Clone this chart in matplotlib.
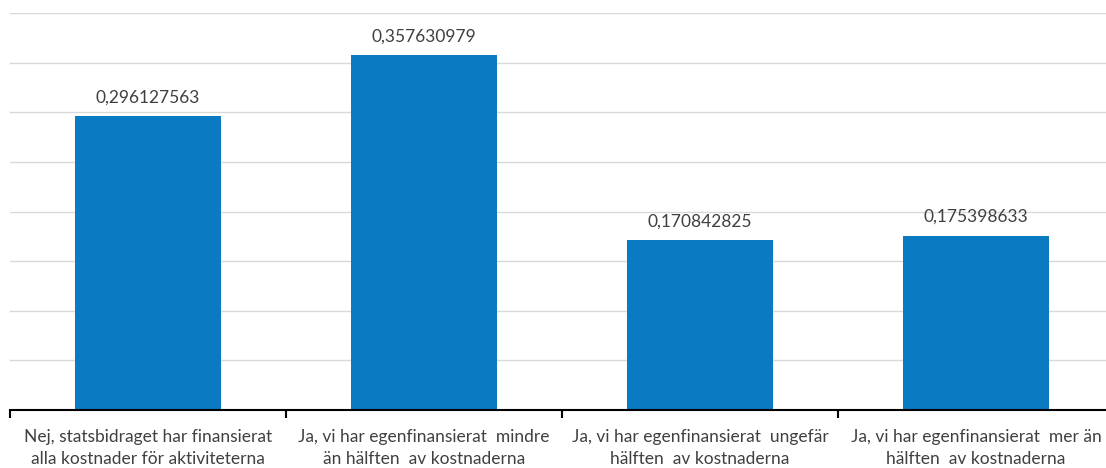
import matplotlib.pyplot as plt
import numpy as np

categories = [
    "Nej, statsbidraget har finansierat\nalla kostnader för aktiviteterna",
    "Ja, vi har egenfinansierat  mindre\nän hälften  av kostnaderna",
    "Ja, vi har egenfinansierat  ungefär\nhälften  av kostnaderna",
    "Ja, vi har egenfinansierat  mer än\nhälften  av kostnaderna",
]
values = [0.296127563, 0.357630979, 0.170842825, 0.175398633]
value_labels = ["0,296127563", "0,357630979", "0,170842825", "0,175398633"]

plt.rcParams['font.family'] = ['Lato', 'DejaVu Sans']

fig = plt.figure(figsize=(11.06, 4.68), dpi=100)
# the plot area runs past the right edge of the picture, as in the original
ax = fig.add_axes([10 / 1106, 1 - 410 / 468, 1104 / 1106, 397 / 468])

x = np.arange(len(values))
ax.bar(x, values, width=0.53, color="#0A7BC2", zorder=3)

for xi, v, lab in zip(x, values, value_labels):
    ax.text(xi, v + 0.011, lab, ha="center", va="bottom",
            fontsize=12.5, color="#404040")

ax.set_xlim(-0.5, len(values) - 0.5)
ax.set_ylim(0, 0.40)
ax.set_yticks(np.arange(0, 0.401, 0.05))
ax.yaxis.grid(True, color="#d9d9d9", linewidth=1, zorder=0)
ax.tick_params(axis="y", left=False, labelleft=False)

ax.set_xticks(x)
ax.set_xticklabels(categories, fontsize=12.5, color="#404040", linespacing=1.4)
ax.tick_params(axis="x", length=0, pad=14)
ax.set_xticks(np.arange(-0.5, len(values)), minor=True)
ax.tick_params(axis="x", which="minor", length=6, width=1.5, color="black",
               direction="out")

for s in ["top", "right", "left"]:
    ax.spines[s].set_visible(False)
ax.spines["bottom"].set_linewidth(1.5)
ax.spines["bottom"].set_zorder(4)

fig.savefig("out.png", dpi=100)
